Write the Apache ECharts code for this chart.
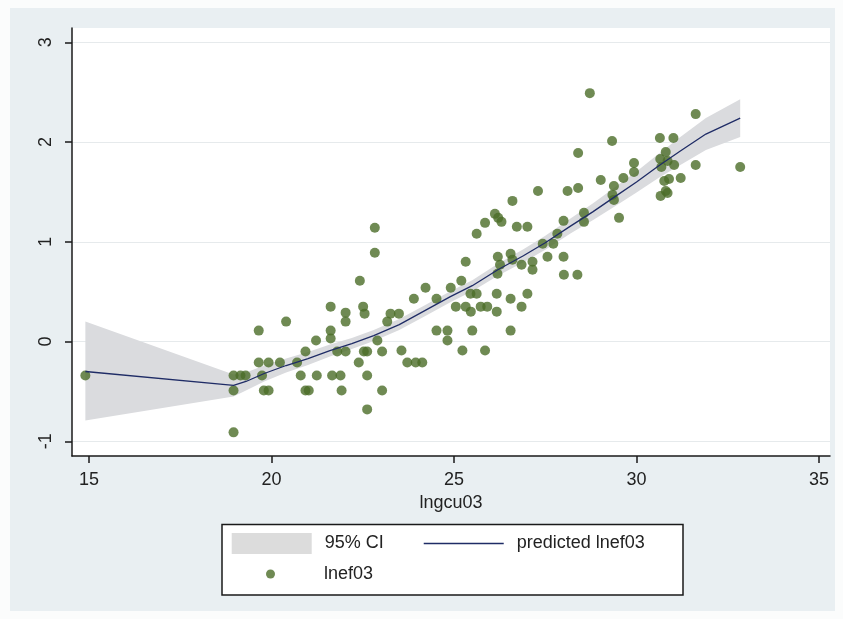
<!DOCTYPE html>
<html><head><meta charset="utf-8">
<script src="https://cdn.jsdelivr.net/npm/echarts@6/dist/echarts.min.js"></script>
<style>html,body{margin:0;padding:0;background:#fbfcfc}#c{width:843px;height:619px}</style>
</head><body><div id="c"></div>
<script>
// ---- data ----
const xTicks = [15, 20, 25, 30, 35];
const yTicks = [-1, 0, 1, 2, 3];

const obsX = [14.90, 18.96, 19.15, 19.29, 18.96, 18.96, 19.65, 19.65, 19.92, 20.23,
  19.74, 19.79, 19.92, 20.40, 20.70, 20.80, 20.93, 20.93, 21.02, 21.22,
  21.24, 21.62, 21.62, 21.62, 21.66, 21.89, 21.80, 22.03, 21.92, 22.03,
  22.03, 22.39, 22.42, 22.51, 22.55, 22.53, 22.62, 22.62, 22.62, 22.83,
  22.83, 22.90, 23.03, 23.03, 23.17, 23.26, 23.49, 23.56, 23.72, 23.95,
  24.13, 23.90, 24.22, 24.52, 24.52, 24.82, 24.82, 24.91, 25.05, 25.32,
  25.46, 25.20, 25.23, 25.32, 25.45, 25.62, 25.50, 25.62, 25.73, 25.91,
  25.85, 25.85, 26.12, 26.21, 26.30, 26.17, 26.17, 26.19, 26.20, 26.26,
  26.55, 26.60, 26.55, 26.55, 26.60, 26.72, 27.01, 26.85, 26.85, 27.01,
  27.15, 27.15, 27.30, 27.43, 27.72, 27.56, 27.83, 28.00, 28.00, 28.01,
  28.38, 28.11, 28.40, 28.40, 28.56, 28.56, 28.72, 29.02, 29.33, 29.38,
  29.34, 29.38, 29.52, 29.64, 29.93, 29.93, 30.64, 31.01, 30.80, 30.65,
  30.85, 30.68, 31.03, 30.89, 31.21, 30.76, 30.80, 30.66, 30.85, 31.62,
  31.62, 32.84];
const obsY = [-0.34, -0.34, -0.34, -0.34, -0.49, -0.91, 0.11, -0.21, -0.21, -0.21,
  -0.34, -0.49, -0.49, 0.20, -0.21, -0.34, -0.10, -0.49, -0.49, 0.01,
  -0.34, 0.35, 0.11, 0.03, -0.34, -0.34, -0.10, -0.10, -0.49, 0.29,
  0.20, -0.21, 0.61, 0.35, 0.28, -0.10, -0.10, -0.34, -0.68, 1.14,
  0.89, 0.01, -0.10, -0.49, 0.20, 0.28, 0.28, -0.09, -0.21, -0.21,
  -0.21, 0.43, 0.54, 0.43, 0.11, 0.11, 0.01, 0.54, 0.35, 0.35,
  0.30, 0.61, -0.09, 0.80, 0.48, 0.48, 0.11, 1.08, 0.35, 0.35,
  1.19, -0.09, 1.28, 1.24, 1.20, 0.48, 0.30, 0.68, 0.85, 0.77,
  0.88, 0.82, 0.43, 0.11, 1.41, 1.15, 1.15, 0.77, 0.35, 0.48,
  0.80, 0.72, 1.51, 0.98, 0.98, 0.85, 1.08, 1.21, 0.85, 0.67,
  0.67, 1.51, 1.54, 1.89, 1.29, 1.20, 2.49, 1.62, 2.01, 1.56,
  1.47, 1.42, 1.24, 1.64, 1.79, 1.70, 2.04, 2.04, 1.90, 1.83,
  1.81, 1.75, 1.77, 1.63, 1.64, 1.61, 1.51, 1.46, 1.49, 2.28,
  1.77, 1.75];

const fitX = [14.90, 18.96, 19.30, 19.80, 20.40, 21.00, 21.60, 22.20, 22.80, 23.50,
  24.20, 24.90, 25.50, 26.20, 26.90, 27.50, 28.20, 28.80, 29.40, 30.00,
  30.60, 31.20, 31.90, 32.84];
const fitY = [-0.30, -0.44, -0.40, -0.32, -0.24, -0.17, -0.09, -0.02, 0.06, 0.17,
  0.31, 0.45, 0.56, 0.72, 0.86, 0.99, 1.16, 1.30, 1.45, 1.60,
  1.76, 1.91, 2.08, 2.24];
const ciUpper = [0.20, -0.33, -0.31, -0.24, -0.17, -0.105, -0.03, 0.035, 0.115, 0.225,
  0.365, 0.505, 0.615, 0.78, 0.925, 1.06, 1.235, 1.385, 1.545, 1.705,
  1.88, 2.05, 2.24, 2.43];
const ciLower = [-0.79, -0.55, -0.49, -0.40, -0.31, -0.235, -0.15, -0.075, 0.005, 0.115,
  0.255, 0.395, 0.505, 0.66, 0.795, 0.92, 1.085, 1.215, 1.355, 1.495,
  1.64, 1.77, 1.92, 2.05];

// ---- chart ----
const FONT = '"Liberation Sans", Arial, sans-serif';
const TXT = '#222';
const AX = '#1a1a1a';
const LINE_C = '#1f2c66';
const DOT_C = '#4b6d28';
const chart = echarts.init(document.getElementById('c'), null, {renderer: 'canvas'});

const option = {
  backgroundColor: '#fbfcfc',
  animation: false,
  graphic: [
    {type: 'rect', silent: true, z: -20, shape: {x: 10, y: 8, width: 825, height: 603}, style: {fill: '#e9eff2'}},
    {type: 'rect', silent: true, z: -5, shape: {x: 222, y: 524.5, width: 461, height: 70.5},
      style: {fill: '#ffffff', stroke: AX, lineWidth: 1.5}}
  ],
  grid: {left: 72, top: 28, right: 13, bottom: 163, show: true, backgroundColor: '#ffffff',
    borderWidth: 0, outerBoundsMode: 'none'},
  xAxis: {
    type: 'value', min: 14.534, max: 35.30,
    name: 'lngcu03', nameLocation: 'middle', nameGap: 31,
    nameTextStyle: {fontSize: 18, color: TXT, fontFamily: FONT},
    axisLine: {show: true, onZero: false, lineStyle: {color: AX, width: 1.5}},
    axisTick: {show: true, length: 7, customValues: xTicks, lineStyle: {color: AX, width: 1.5}},
    axisLabel: {customValues: xTicks, fontSize: 18, color: TXT, margin: 15, fontFamily: FONT},
    splitLine: {show: false}
  },
  yAxis: {
    type: 'value', min: -1.147, max: 3.143,
    axisLine: {show: true, onZero: false, lineStyle: {color: AX, width: 1.5}},
    axisTick: {show: true, length: 7, customValues: yTicks, lineStyle: {color: AX, width: 1.5}},
    axisLabel: {customValues: yTicks, fontSize: 18, color: TXT, margin: 17, rotate: 90, fontFamily: FONT},
    splitLine: {show: true, lineStyle: {color: '#e6eaec', width: 1}}
  },
  legend: [
    {
      data: [
        {name: '95% CI', icon: 'rect', itemStyle: {color: '#dcdcdc'}},
        {name: 'predicted lnef03', icon: 'path://M0,0L80,0L80,1.4L0,1.4Z', itemStyle: {color: LINE_C}}
      ],
      left: 231.7, top: 533, padding: 0, itemWidth: 80, itemHeight: 21, itemGap: 40,
      selectedMode: false,
      textStyle: {fontSize: 18, color: TXT, fontFamily: FONT, padding: [0, 0, 0, 8]}
    },
    {
      data: [{name: 'lnef03', icon: 'circle', itemStyle: {color: DOT_C}}],
      left: 266, top: 565, padding: 0, itemWidth: 9, itemHeight: 9,
      selectedMode: false,
      textStyle: {fontSize: 18, color: TXT, fontFamily: FONT, padding: [0, 0, 0, 44]}
    }
  ],
  series: [
    {
      type: 'custom', name: '95% CI', silent: true, z: 1,
      itemStyle: {color: '#dadbde'},
      data: fitX.map((x, i) => [x, ciLower[i], ciUpper[i]]),
      encode: {x: 0, y: [1, 2]},
      renderItem: function (params, api) {
        if (params.dataIndex !== 0) return null;
        const pts = [];
        for (let i = 0; i < fitX.length; i++) pts.push(api.coord([fitX[i], ciUpper[i]]));
        for (let i = fitX.length - 1; i >= 0; i--) pts.push(api.coord([fitX[i], ciLower[i]]));
        return {type: 'polygon', shape: {points: pts}, style: {fill: '#dadbde'}};
      }
    },
    {
      type: 'scatter', name: 'lnef03', z: 2,
      symbol: 'circle', symbolSize: 10,
      itemStyle: {color: DOT_C},
      data: obsX.map((x, i) => [x, obsY[i]])
    },
    {
      type: 'line', name: 'predicted lnef03', z: 3,
      symbol: 'none',
      lineStyle: {color: LINE_C, width: 1.3},
      data: fitX.map((x, i) => [x, fitY[i]])
    }
  ]
};
chart.setOption(option);
</script>
</body></html>
